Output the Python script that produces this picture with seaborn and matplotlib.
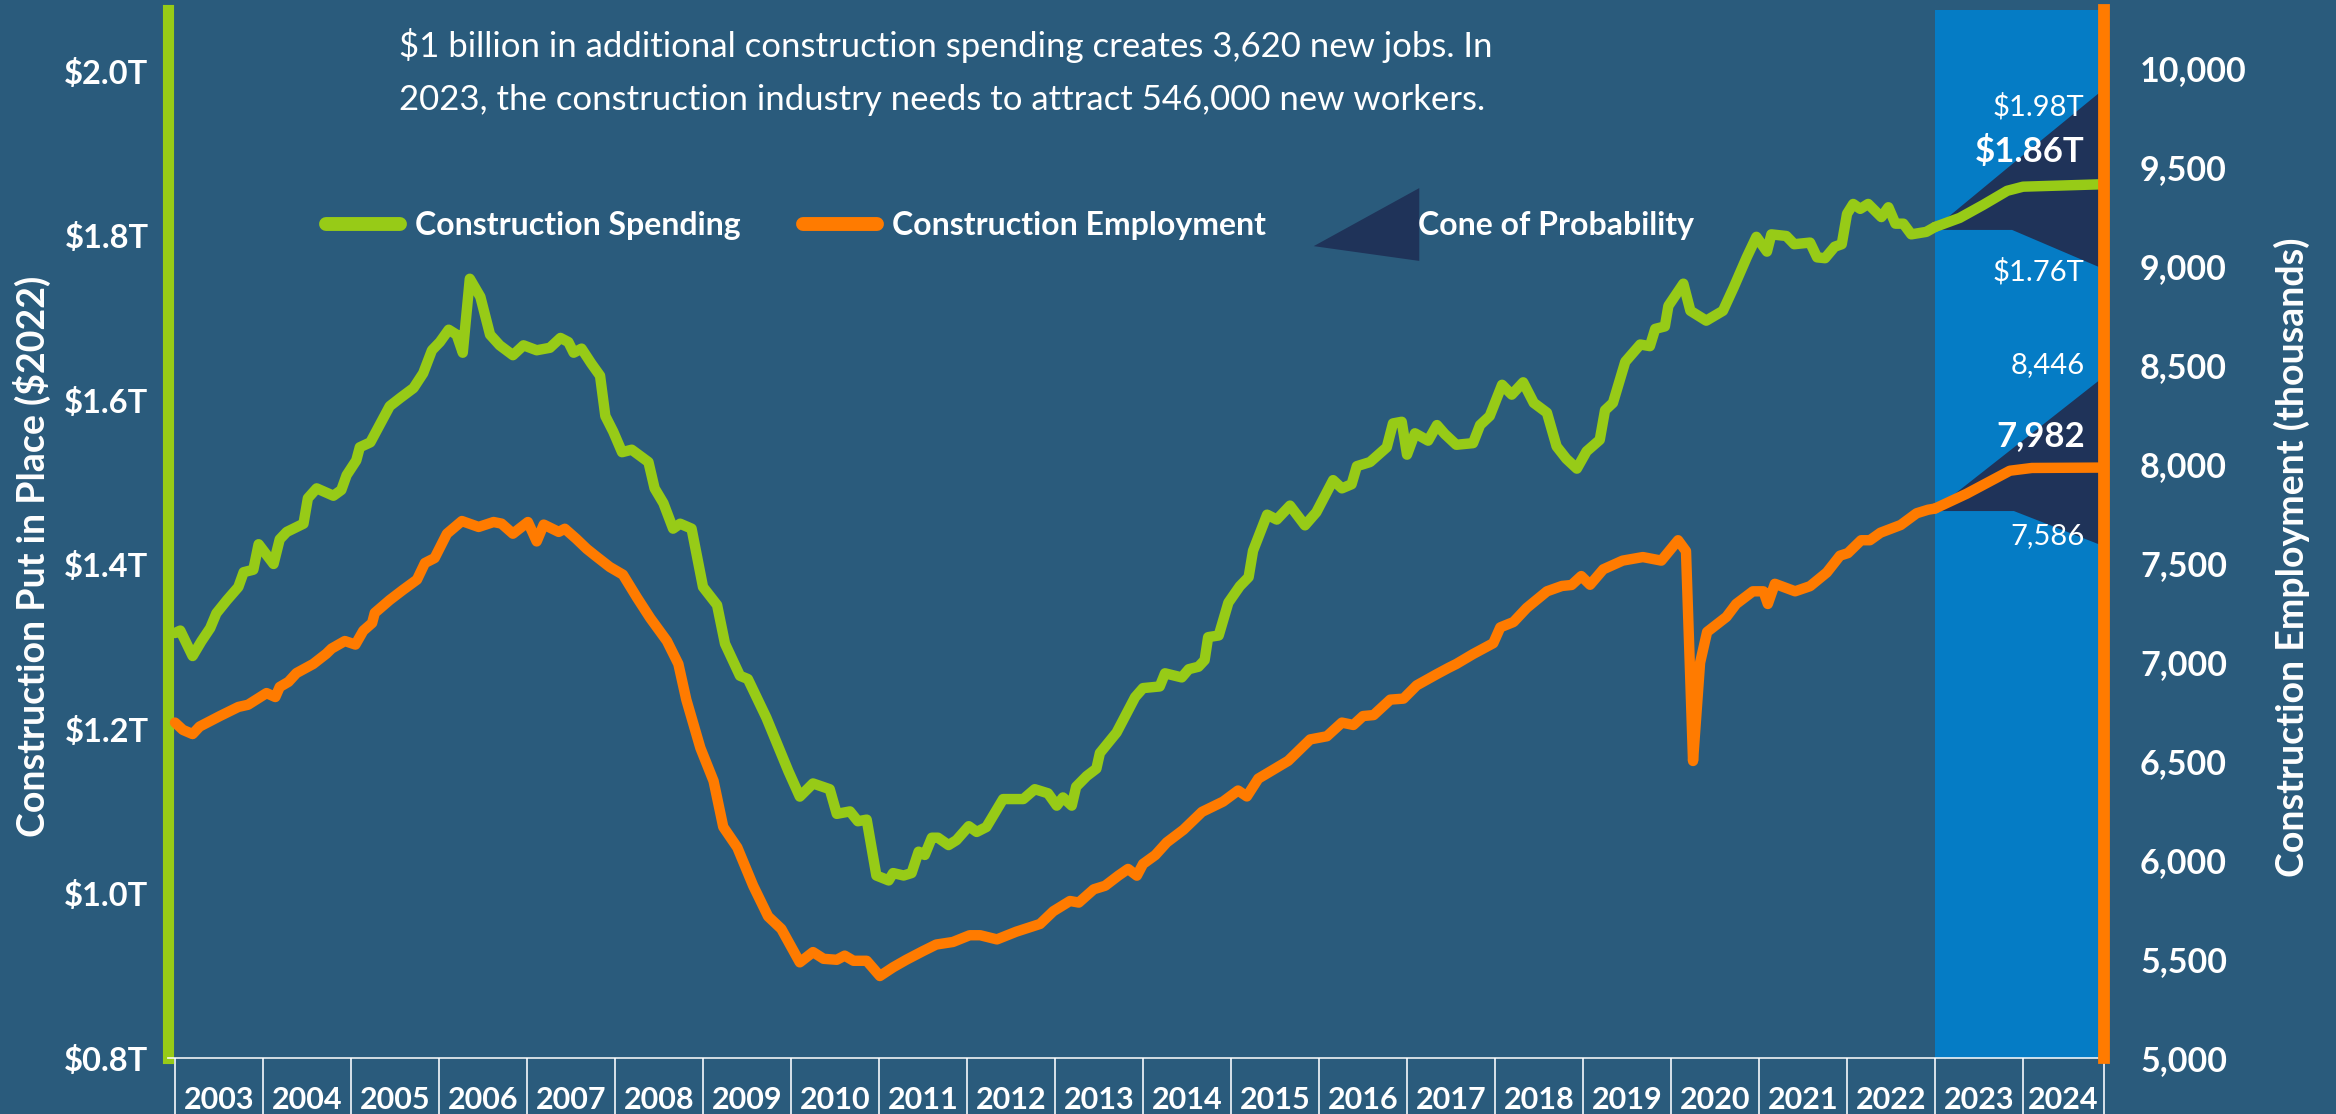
import matplotlib
matplotlib.use("Agg")
import matplotlib.pyplot as plt
from matplotlib.lines import Line2D
import numpy as np
import seaborn as sns

# colours
BG = "#2a5b7c"
BAND = "#057cc5"
CONE = "#1f3359"
GREEN = "#97cb17"
ORANGE = "#ff7b00"
WHITE = "#ffffff"

# ---- data ----
years = list(range(2003, 2025))
year_labels = [str(y) for y in years]
x_end = 2024.92

spend_x = [2003.00, 2003.06, 2003.20, 2003.30, 2003.40, 2003.47, 2003.59, 2003.72, 2003.78, 2003.89,
           2003.95, 2004.12, 2004.19, 2004.27, 2004.46, 2004.51, 2004.61, 2004.80, 2004.89, 2004.95,
           2005.06, 2005.10, 2005.22, 2005.33, 2005.44, 2005.56, 2005.71, 2005.82, 2005.92, 2006.01,
           2006.11, 2006.20, 2006.27, 2006.35, 2006.47, 2006.58, 2006.69, 2006.84, 2006.96, 2007.11,
           2007.26, 2007.38, 2007.47, 2007.53, 2007.62, 2007.73, 2007.83, 2007.89, 2007.98, 2008.08,
           2008.19, 2008.38, 2008.45, 2008.55, 2008.66, 2008.74, 2008.87, 2009.00, 2009.16, 2009.25,
           2009.42, 2009.51, 2009.72, 2009.97, 2010.10, 2010.25, 2010.44, 2010.52, 2010.67, 2010.76,
           2010.86, 2010.97, 2011.11, 2011.16, 2011.28, 2011.37, 2011.45, 2011.52, 2011.60, 2011.67,
           2011.79, 2011.88, 2012.02, 2012.11, 2012.22, 2012.41, 2012.64, 2012.77, 2012.92, 2013.02,
           2013.09, 2013.19, 2013.24, 2013.36, 2013.47, 2013.51, 2013.70, 2013.91, 2014.00, 2014.19,
           2014.25, 2014.44, 2014.52, 2014.63, 2014.70, 2014.74, 2014.86, 2014.97, 2015.10, 2015.20,
           2015.25, 2015.41, 2015.52, 2015.67, 2015.84, 2015.97, 2016.16, 2016.26, 2016.37, 2016.43,
           2016.58, 2016.77, 2016.84, 2016.94, 2017.00, 2017.09, 2017.24, 2017.34, 2017.43, 2017.56,
           2017.75, 2017.83, 2017.94, 2018.08, 2018.19, 2018.32, 2018.44, 2018.59, 2018.70, 2018.81,
           2018.93, 2019.04, 2019.19, 2019.25, 2019.34, 2019.48, 2019.65, 2019.76, 2019.82, 2019.93,
           2019.97, 2020.14, 2020.22, 2020.40, 2020.59, 2020.71, 2020.86, 2020.97, 2021.09, 2021.14,
           2021.31, 2021.40, 2021.58, 2021.66, 2021.75, 2021.86, 2021.94, 2022.00, 2022.07, 2022.15,
           2022.24, 2022.39, 2022.47, 2022.55, 2022.64, 2022.73, 2022.90, 2023.00]
spending = [1.317, 1.320, 1.289, 1.307, 1.323, 1.341, 1.357, 1.373, 1.391, 1.394,
            1.425, 1.401, 1.431, 1.440, 1.450, 1.481, 1.493, 1.484, 1.491, 1.509,
            1.527, 1.543, 1.549, 1.571, 1.593, 1.603, 1.615, 1.633, 1.661, 1.671,
            1.686, 1.680, 1.658, 1.748, 1.726, 1.680, 1.667, 1.655, 1.667, 1.661,
            1.664, 1.676, 1.671, 1.658, 1.663, 1.645, 1.630, 1.581, 1.562, 1.537,
            1.540, 1.525, 1.493, 1.475, 1.444, 1.450, 1.444, 1.373, 1.351, 1.304,
            1.265, 1.261, 1.214, 1.149, 1.118, 1.134, 1.127, 1.097, 1.100, 1.088,
            1.090, 1.022, 1.016, 1.025, 1.022, 1.025, 1.051, 1.047, 1.068, 1.068,
            1.059, 1.065, 1.082, 1.075, 1.081, 1.115, 1.115, 1.127, 1.122, 1.107,
            1.117, 1.107, 1.130, 1.143, 1.152, 1.171, 1.196, 1.239, 1.250, 1.252,
            1.268, 1.263, 1.273, 1.276, 1.284, 1.312, 1.314, 1.354, 1.374, 1.385,
            1.417, 1.461, 1.455, 1.472, 1.448, 1.464, 1.503, 1.493, 1.498, 1.520,
            1.525, 1.543, 1.572, 1.574, 1.534, 1.560, 1.551, 1.570, 1.559, 1.546,
            1.548, 1.570, 1.581, 1.619, 1.607, 1.622, 1.597, 1.585, 1.544, 1.529,
            1.517, 1.538, 1.552, 1.588, 1.597, 1.647, 1.668, 1.666, 1.687, 1.690,
            1.715, 1.742, 1.709, 1.697, 1.709, 1.737, 1.774, 1.799, 1.781, 1.802,
            1.800, 1.790, 1.792, 1.774, 1.773, 1.787, 1.790, 1.827, 1.839, 1.833,
            1.839, 1.823, 1.835, 1.815, 1.815, 1.802, 1.805, 1.811]

emp_x = [2003.00, 2003.09, 2003.20, 2003.28, 2003.51, 2003.72, 2003.83, 2004.04, 2004.14, 2004.19,
         2004.29, 2004.38, 2004.57, 2004.72, 2004.78, 2004.93, 2005.05, 2005.14, 2005.24, 2005.27,
         2005.44, 2005.59, 2005.75, 2005.84, 2005.95, 2006.09, 2006.26, 2006.45, 2006.62, 2006.71,
         2006.84, 2007.01, 2007.11, 2007.19, 2007.36, 2007.43, 2007.56, 2007.68, 2007.79, 2007.94,
         2008.09, 2008.25, 2008.40, 2008.59, 2008.72, 2008.81, 2008.97, 2009.12, 2009.23, 2009.39,
         2009.57, 2009.74, 2009.89, 2010.10, 2010.25, 2010.37, 2010.52, 2010.61, 2010.71, 2010.86,
         2011.01, 2011.16, 2011.31, 2011.50, 2011.65, 2011.84, 2012.03, 2012.15, 2012.34, 2012.56,
         2012.83, 2012.98, 2013.17, 2013.27, 2013.44, 2013.57, 2013.72, 2013.83, 2013.93, 2014.00,
         2014.14, 2014.27, 2014.46, 2014.67, 2014.91, 2015.08, 2015.18, 2015.31, 2015.65, 2015.90,
         2016.09, 2016.26, 2016.39, 2016.50, 2016.62, 2016.81, 2016.96, 2017.11, 2017.34, 2017.47,
         2017.56, 2017.75, 2017.98, 2018.06, 2018.21, 2018.36, 2018.59, 2018.76, 2018.87, 2018.98,
         2019.08, 2019.23, 2019.45, 2019.68, 2019.89, 2020.08, 2020.17, 2020.25, 2020.33, 2020.41,
         2020.63, 2020.74, 2020.93, 2021.05, 2021.10, 2021.18, 2021.41, 2021.58, 2021.77, 2021.92,
         2022.01, 2022.16, 2022.26, 2022.38, 2022.61, 2022.79, 2022.92, 2023.00]
employment = [6694, 6657, 6636, 6674, 6727, 6773, 6784, 6843, 6823, 6874,
              6900, 6944, 6990, 7042, 7068, 7106, 7088, 7158, 7197, 7248,
              7313, 7364, 7416, 7500, 7525, 7648, 7712, 7682, 7707, 7699,
              7648, 7707, 7609, 7694, 7657, 7673, 7622, 7571, 7532, 7480,
              7441, 7325, 7222, 7106, 6990, 6810, 6566, 6399, 6167, 6063,
              5870, 5715, 5652, 5483, 5535, 5501, 5496, 5517, 5491, 5491,
              5414, 5458, 5496, 5540, 5573, 5586, 5620, 5620, 5599, 5638,
              5677, 5741, 5793, 5785, 5852, 5870, 5921, 5955, 5921, 5980,
              6025, 6089, 6153, 6243, 6295, 6351, 6321, 6411, 6501, 6609,
              6625, 6694, 6682, 6727, 6732, 6810, 6815, 6882, 6939, 6970,
              6990, 7040, 7095, 7175, 7202, 7273, 7357, 7384, 7389, 7434,
              7390, 7468, 7512, 7530, 7512, 7615, 7560, 6500, 6996, 7152,
              7228, 7293, 7357, 7357, 7293, 7395, 7357, 7383, 7452, 7537,
              7550, 7615, 7615, 7653, 7692, 7751, 7769, 7775]

# forecast 2023-2024 and cone of probability
spend_fc_x = [2023.00, 2023.28, 2023.55, 2023.82, 2024.00, x_end]
spend_fc = [1.811, 1.822, 1.838, 1.855, 1.860, 1.863]
spend_cone_x = [2023.00, 2023.87, x_end]
spend_cone_hi = [1.811, 1.888, 1.98]
spend_cone_lo = [1.808, 1.808, 1.76]

emp_fc_x = [2023.00, 2023.36, 2023.85, 2024.10, x_end]
emp_fc = [7775, 7850, 7966, 7980, 7982]
emp_cone_x = [2023.00, 2023.89, x_end]
emp_cone_hi = [7775, 8086, 8446]
emp_cone_lo = [7765, 7765, 7586]

left_ticks = [0.8, 1.0, 1.2, 1.4, 1.6, 1.8, 2.0]
left_labels = ["$0.8T", "$1.0T", "$1.2T", "$1.4T", "$1.6T", "$1.8T", "$2.0T"]
right_ticks = list(range(5000, 10001, 500))
right_labels = [f"{v:,}" for v in right_ticks]

headline = ["$1 billion in additional construction spending creates 3,620 new jobs. In",
            "2023, the construction industry needs to attract 546,000 new workers."]

# ---- style ----
sns.set_theme(style="white")
plt.rcParams["font.family"] = ["Lato", "DejaVu Sans"]
plt.rcParams["text.parse_math"] = False

W, H = 2336, 1114
fig = plt.figure(figsize=(W / 100, H / 100), dpi=100, facecolor=BG)
ax = fig.add_axes([168 / W, 56 / H, (2104 - 168) / W, 1048 / H])
ax.set_facecolor(BG)
ax2 = ax.twinx()

ax.set_xlim(2003 - 7 / 88, x_end)
ax.set_ylim(0.8, 0.8 + 1048 / 822)
ax2.set_ylim(5000, 5000 + 1048 * 500 / 99)

# forecast band + cones
ax.axvspan(2023, x_end, color=BAND, lw=0, zorder=0)
ax.fill_between(spend_cone_x, spend_cone_lo, spend_cone_hi, color=CONE, lw=0, zorder=1)
ax2.fill_between(emp_cone_x, emp_cone_lo, emp_cone_hi, color=CONE, lw=0, zorder=1)

line_kw = dict(lw=7.5, solid_capstyle="round", solid_joinstyle="round", legend=False)
sns.lineplot(x=spend_x, y=spending, ax=ax, color=GREEN, zorder=3, **line_kw)
sns.lineplot(x=spend_fc_x, y=spend_fc, ax=ax, color=GREEN, zorder=3, **line_kw)
sns.lineplot(x=emp_x, y=employment, ax=ax2, color=ORANGE, zorder=3, **line_kw)
sns.lineplot(x=emp_fc_x, y=emp_fc, ax=ax2, color=ORANGE, zorder=3, **line_kw)

# spines
for s in ["top", "right"]:
    ax.spines[s].set_visible(False)
for s in ["top", "left", "bottom"]:
    ax2.spines[s].set_visible(False)
ax.spines["left"].set_color(GREEN)
ax.spines["left"].set_linewidth(8)
ax.spines["bottom"].set_color(WHITE)
ax.spines["bottom"].set_linewidth(1.3)
ax.spines["bottom"].set_alpha(0.85)
ax2.spines["right"].set_color(ORANGE)
ax2.spines["right"].set_linewidth(8.5)

# y ticks
ax.set_yticks(left_ticks)
ax.set_yticklabels(left_labels, fontweight="bold")
ax.tick_params(axis="y", length=0, pad=14, labelsize=23.5, labelcolor=WHITE)
ax2.set_yticks(right_ticks)
ax2.set_yticklabels(right_labels, fontweight="bold")
ax2.tick_params(axis="y", length=0, pad=26, labelsize=24.5, labelcolor=WHITE)
ax.set_ylabel("")
ax2.set_ylabel("")

# x ticks: labels centred in year cells, separators at year boundaries
ax.set_xticks([y + 0.5 if y < 2024 else (y + x_end) / 2 for y in years])
ax.set_xticklabels(year_labels, fontweight="bold")
ax.set_xticks(years + [x_end], minor=True)
ax.tick_params(axis="x", which="major", bottom=False, length=0, pad=20, labelsize=22, labelcolor=WHITE)
ax.tick_params(axis="x", which="minor", bottom=True, direction="out", length=42, width=1.4,
               color="#d8e2ea")

# end-point labels
tx = 2024.70
ax.text(tx, 1.957, "$1.98T", ha="right", va="center", fontsize=21, color=WHITE, zorder=5)
ax.text(tx, 1.903, "$1.86T", ha="right", va="center", fontsize=25, fontweight="bold", color=WHITE, zorder=5)
ax.text(tx, 1.756, "$1.76T", ha="right", va="center", fontsize=21, color=WHITE, zorder=5)
ax2.text(tx, 8500, "8,446", ha="right", va="center", fontsize=21, color=WHITE, zorder=5)
ax2.text(tx, 8141, "7,982", ha="right", va="center", fontsize=25, fontweight="bold", color=WHITE, zorder=5)
ax2.text(tx, 7636, "7,586", ha="right", va="center", fontsize=21, color=WHITE, zorder=5)

# headline
fig.text(399 / W, 1 - 57 / H, headline[0], ha="left", va="baseline", fontsize=25, color=WHITE)
fig.text(399 / W, 1 - 110 / H, headline[1], ha="left", va="baseline", fontsize=25, color=WHITE)

# axis titles
fig.text(32 / W, 0.501, "Construction Put in Place ($2022)", rotation=90, ha="center", va="center",
         fontsize=27, fontweight="bold", color=WHITE)
fig.text(2292 / W, 0.5, "Construction Employment (thousands)", rotation=90, ha="center", va="center",
         fontsize=27, fontweight="bold", color=WHITE)

# legend
cone_marker = [(1, 0.69), (-1, -0.41), (1, -0.69)]
handles = [
    Line2D([], [], color=GREEN, lw=10, solid_capstyle="round"),
    Line2D([], [], color=ORANGE, lw=10, solid_capstyle="round"),
    Line2D([], [], ls="none", marker=cone_marker, markersize=76, markerfacecolor=CONE, markeredgewidth=0),
]
fig.legend(handles, ["Construction Spending", "Construction Employment", "Cone of Probability"],
           loc="center", bbox_to_anchor=(1010 / W, 1 - 226 / H), ncol=3, frameon=False,
           prop={"weight": "bold", "size": 23}, labelcolor=WHITE,
           handlelength=2.32, handletextpad=0.47, columnspacing=1.97)

fig.savefig("out.png", dpi=100, facecolor=BG)
